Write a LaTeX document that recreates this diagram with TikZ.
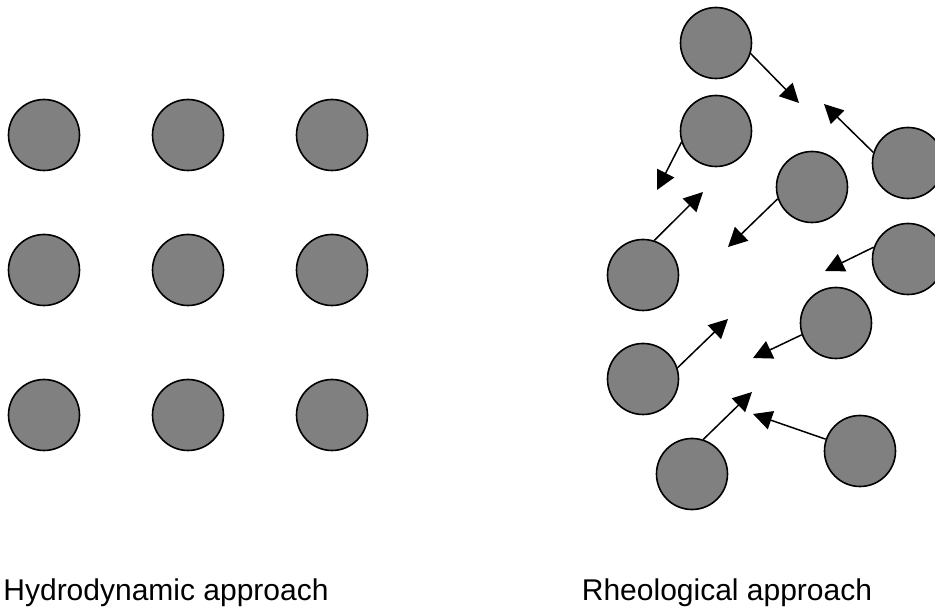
\documentclass[tikz,border=0pt]{standalone}
\usepackage{fontspec}
\setmainfont{Liberation Sans}
\usetikzlibrary{arrows.meta}
\definecolor{ballgray}{RGB}{128,128,128}
\begin{document}
\begin{tikzpicture}[x=1pt,y=-1pt,
  ball/.style={circle,draw=black,line width=1.6pt,fill=ballgray,minimum size=71pt,inner sep=0pt},
  push/.style={line width=1.5pt,-{Triangle[length=19pt,width=19pt]}},
  lbl/.style={anchor=base,font=\fontsize{30}{36}\selectfont}]
\useasboundingbox (0,0) rectangle (935,609);
% left grid
\foreach \i/\x in {1/44,2/188,3/332}
  \foreach \j/\y in {1/135,2/270,3/415}
    \node[ball] (g\i\j) at (\x,\y) {};
% right side
\node[ball] (r1) at (716,43) {};
\node[ball] (r2) at (716,131) {};
\node[ball] (r3) at (812,187) {};
\node[ball] (r4) at (908,163) {};
\node[ball] (r5) at (908,259) {};
\node[ball] (r6) at (643,275) {};
\node[ball] (r7) at (836,323) {};
\node[ball] (r8) at (643,379) {};
\node[ball] (r9) at (860,451) {};
\node[ball] (r10) at (692,474) {};
\coordinate (t1) at (799,103);
\coordinate (t4) at (824,104);
\coordinate (t2) at (657,190);
\coordinate (t6) at (703,192);
\coordinate (t3) at (728,247);
\coordinate (t5) at (825,271);
\coordinate (t7) at (753,358);
\coordinate (t8) at (728,319);
\coordinate (t10) at (752,392);
\coordinate (t9) at (753,414);
\draw[push] (r1.-17) -- (t1);
\draw[push] (r4.163) -- (t4);
\draw[push] (r2.-162) -- (t2);
\draw[push] (r6.72) -- (t6);
\draw[push] (r3.-161) -- (t3);
\draw[push] (r5.161) -- (t5);
\draw[push] (r7.-161) -- (t7);
\draw[push] (r8.18) -- (t8);
\draw[push] (r10.72) -- (t10);
\draw[push] (r9.161) -- (t9);
\node[lbl] (lh) at (166,600) {Hydrodynamic approach};
\node[lbl] (lr) at (727,600) {Rheological approach};
\end{tikzpicture}
\end{document}
